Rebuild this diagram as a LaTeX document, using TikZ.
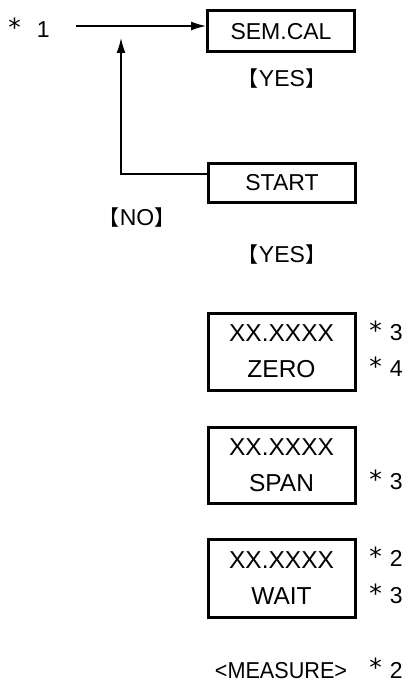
\documentclass[tikz,border=0pt]{standalone}
\usepackage{fontspec}
\setmainfont{Liberation Sans}
\newfontfamily\cjk{Noto Sans CJK JP}
\newfontfamily\dv{DejaVu Sans}
\usetikzlibrary{arrows.meta}
\newcommand{\lb}{{\cjk\fontsize{21}{22}\selectfont 【}}
\newcommand{\rb}{{\cjk\fontsize{21}{22}\selectfont 】}}
\newcommand{\st}{\raisebox{1.5pt}{\dv\fontsize{25}{26}\selectfont *}}
\newcommand{\nt}[1]{\st\hspace{8pt}#1}
\begin{document}
\begin{tikzpicture}[x=1pt,y=1pt,
  box/.style={draw, line width=3pt, inner sep=0pt, align=center, minimum width=147pt},
  txt/.style={inner sep=0pt, font=\fontsize{23}{26}\selectfont},
  big/.style={font=\fontsize{24.5}{36}\selectfont},
  flow/.style={line width=1.4pt, -{Latex[length=15pt,width=9pt]}}]
\useasboundingbox (0,0) rectangle (407,-682);

% boxes
\node[box, txt, minimum height=41pt] (sem) at (281,-31.5) {SEM.CAL};
\node[box, txt, minimum height=39pt] (start) at (282,-182.5) {START};
\node[box, big, minimum height=77pt] (zero) at (281.5,-351.5) {XX.XXXX\\ZERO};
\node[box, big, minimum height=76pt] (span) at (281.5,-465) {XX.XXXX\\SPAN};
\node[box, big, minimum height=78pt] (wait) at (281.5,-578) {XX.XXXX\\WAIT};

% labels
\node[txt, anchor=base] (n1) at (29,-38) {\st\hspace{16pt}1};
\node[txt] (yes1) at (282,-79) {\lb YES\rb};
\node[txt] (no) at (137,-218) {\lb NO\rb};
\node[txt] (yes2) at (282,-255) {\lb YES\rb};
\node[txt, anchor=base] (z3) at (386,-340.5) {\nt{3}};
\node[txt, anchor=base] (z4) at (386,-376.5) {\nt{4}};
\node[txt, anchor=base] (s3) at (386,-489.5) {\nt{3}};
\node[txt, anchor=base] (w2) at (386,-566.5) {\nt{2}};
\node[txt, anchor=base] (w3) at (386,-603.5) {\nt{3}};
\node[txt, anchor=base] (meas) at (281,-678) {\scalebox{0.94}[1]{<MEASURE>}};
\node[txt, anchor=base] (m2) at (386,-678) {\nt{2}};

% connectors
\coordinate (a0) at (76,-26);
\draw[flow] (a0) -- (a0 -| sem.west);
\coordinate (corner) at (121,-174);
\coordinate (tip) at (121,-38);
\draw[flow] (start.west |- corner) -- (corner) -- (tip);
\end{tikzpicture}
\end{document}
